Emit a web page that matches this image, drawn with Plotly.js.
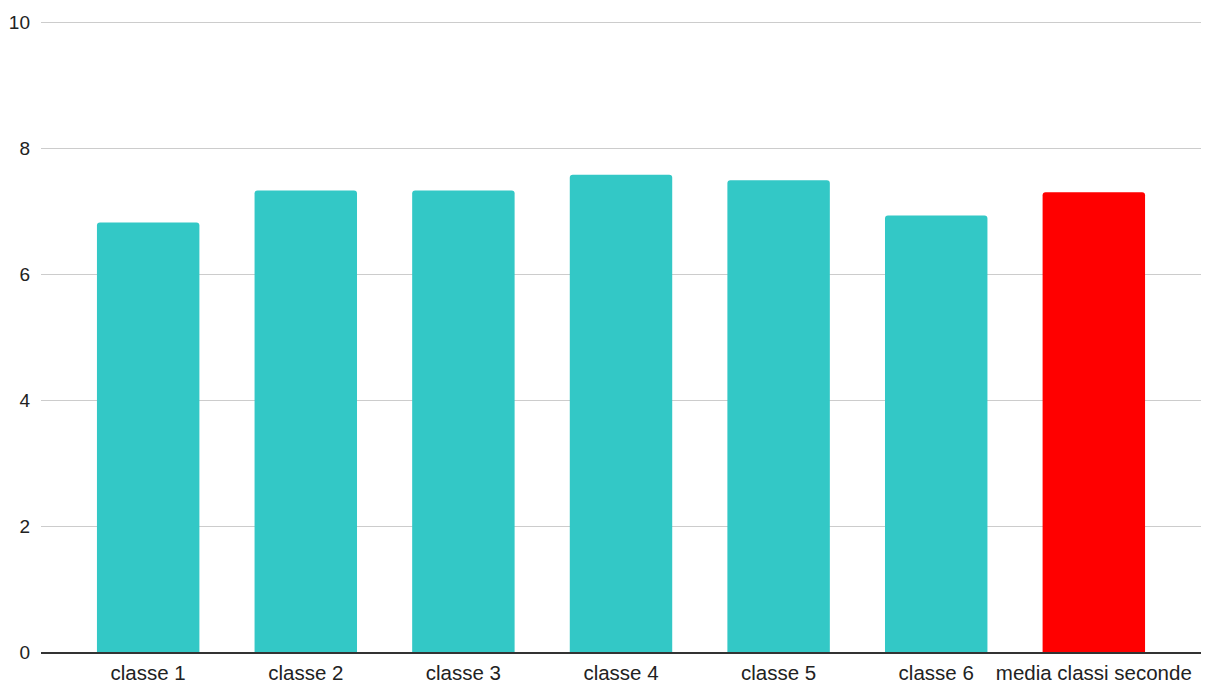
<!DOCTYPE html>
<html>
<head>
<meta charset="utf-8">
<script src="https://cdn.plot.ly/plotly-3.0.1.min.js"></script>
<style>html,body{margin:0;padding:0;background:#fff;}#chart{width:1209px;height:683px;}</style>
</head>
<body>
<div id="chart"></div>
<script>
const categories = ["classe 1", "classe 2", "classe 3", "classe 4", "classe 5", "classe 6", "media classi seconde"];
const values = [6.82, 7.33, 7.33, 7.58, 7.49, 6.93, 7.30];
const barColors = ["#33c8c6", "#33c8c6", "#33c8c6", "#33c8c6", "#33c8c6", "#33c8c6", "#ff0000"];
const yTicks = [0, 2, 4, 6, 8, 10];

const trace = {
  type: "bar",
  x: categories,
  y: values,
  marker: { color: barColors, cornerradius: 3 },
  hoverinfo: "x+y"
};

const layout = {
  width: 1209,
  height: 683,
  margin: { l: 41, r: 8, t: 21, b: 31, pad: 0 },
  paper_bgcolor: "#ffffff",
  plot_bgcolor: "#ffffff",
  bargap: 0.35,
  showlegend: false,
  font: { family: "Liberation Sans, Arial, sans-serif", size: 20, color: "#222222" },
  xaxis: {
    type: "category",
    range: [-0.68, 6.68],
    showline: true,
    linecolor: "#333333",
    linewidth: 1.5,
    ticks: "",
    showgrid: false,
    ticklabelstandoff: 2,
    tickfont: { size: 20.5, color: "#222222" },
    fixedrange: true
  },
  yaxis: {
    range: [0, 10.02],
    tickvals: yTicks,
    ticktext: yTicks.map(String),
    showgrid: true,
    gridcolor: "#cccccc",
    gridwidth: 1,
    zeroline: false,
    showline: false,
    ticks: "",
    ticklabelstandoff: 10,
    tickfont: { size: 19, color: "#222222" },
    fixedrange: true
  }
};

Plotly.newPlot("chart", [trace], layout, { displayModeBar: false, staticPlot: true });
</script>
</body>
</html>
